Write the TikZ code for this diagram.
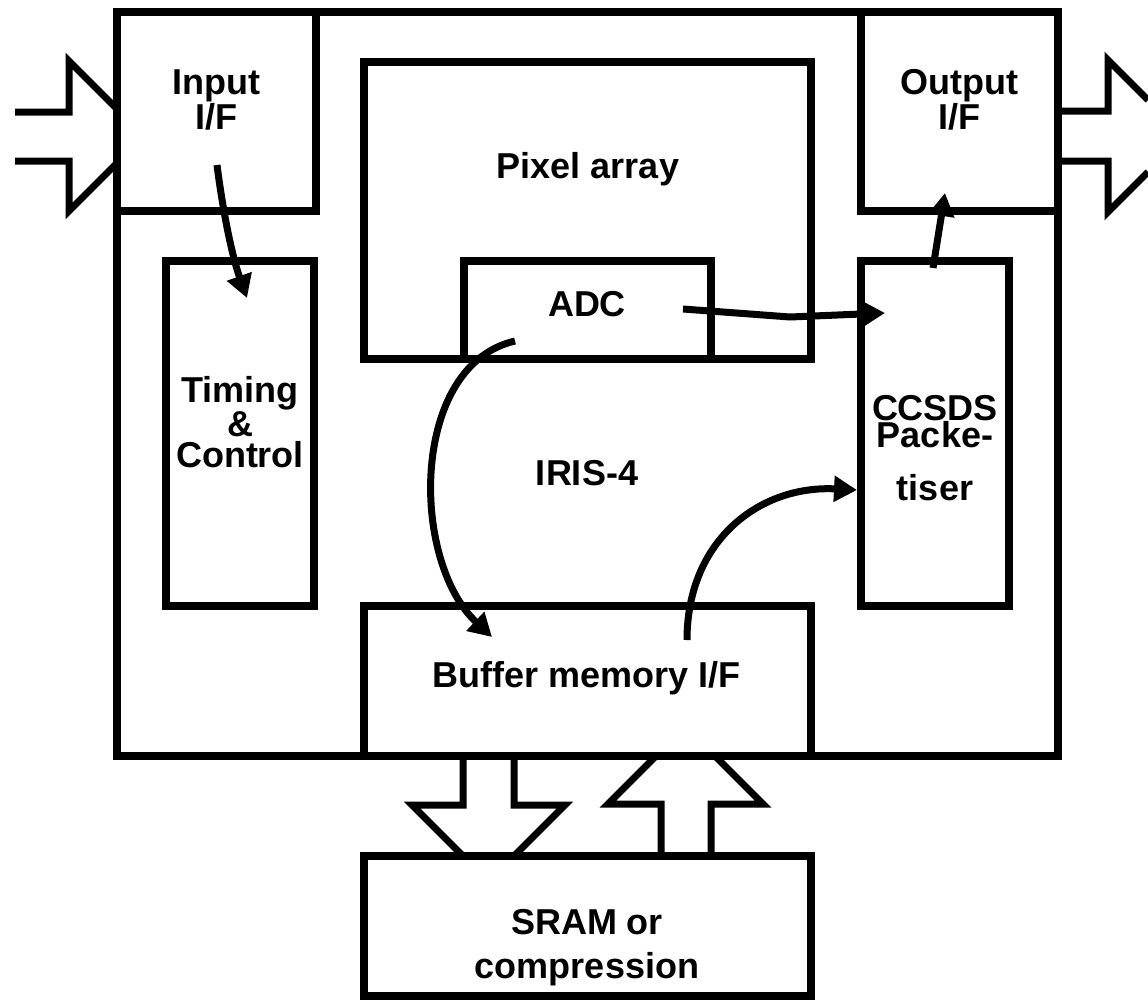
\documentclass[tikz,border=0pt]{standalone}
\usepackage{fontspec}
\setmainfont{Liberation Sans}
\usetikzlibrary{arrows.meta}
\tikzset{
  blk/.style={draw, color={rgb, 255:red, 0; green, 0; blue, 0}, line width=8pt, inner sep=0pt},
  lbl/.style={font=\bfseries\fontsize{36}{31}\selectfont, inner sep=0pt, align=center},
  flow/.style={line width=7pt, -{Triangle[length=23pt,width=25pt]}},
  bus/.style={line width=7pt, line join=miter},
}
\begin{document}
\begin{tikzpicture}[x=1pt,y=1pt,yscale=-1,xscale=1]
\useasboundingbox (0,0) rectangle (1148,1004);
% hollow bus arrows
\draw [bus] (15,112) -- (69,112) -- (69,61) -- (117,109);
\draw [bus] (117,163) -- (69,211) -- (69,161) -- (15,161);
\draw [bus] (1058,111) -- (1108,111) -- (1108,60) -- (1148,100);
\draw [bus] (1148,172) -- (1108,212) -- (1108,161) -- (1058,161);
\draw [bus] (463,756) -- (463,805) -- (412,805) -- (463,856);
\draw [bus] (514,856) -- (565,805) -- (514,805) -- (514,756);
\draw [bus] (661,856) -- (661,804) -- (608,804) -- (656,756);
\draw [bus] (711,856) -- (711,804) -- (763,804) -- (715,756);
% blocks
\node (chip) [blk, minimum width=941pt, minimum height=744pt] at (587.5,384) {};
\node (inif) [blk, minimum width=199pt, minimum height=199pt] at (216.5,111.5) {};
\node (outif) [blk, minimum width=197pt, minimum height=199pt] at (959.5,111.5) {};
\node (pix) [blk, minimum width=447pt, minimum height=297pt] at (587.5,210.5) {};
\node (adc) [blk, minimum width=247pt, minimum height=98pt] at (587.5,310) {};
\node (tc) [blk, minimum width=148pt, minimum height=345pt] at (240,433.5) {};
\node (ccsds) [blk, minimum width=148pt, minimum height=345pt] at (935,433.5) {};
\node (buf) [blk, minimum width=447pt, minimum height=150pt] at (587.5,681) {};
\node (sram) [blk, minimum width=447pt, minimum height=140pt] at (587.5,926) {};
% labels (base = last line)
\node (inlbl) [lbl, anchor=base] at (216,129) {Input\\I/F};
\node (outlbl) [lbl, anchor=base] at (959,129) {Output\\I/F};
\node (pixlbl) [lbl, anchor=base] at (588,178) {Pixel array};
\node (adclbl) [lbl, anchor=base] at (587,316) {ADC};
\node (chiplbl) [lbl, anchor=base] at (587,485) {IRIS-4};
\node (tclbl) [lbl, anchor=base] at (240,467) {Timing\\\&\\Control};
\node (cclbl) [lbl, anchor=base] at (935,500) {CCSDS\\[-4pt]Packe-\\[22pt]tiser};
\node (buflbl) [lbl, anchor=base] at (587,687) {Buffer memory I/F};
\node (sramlbl) [lbl, anchor=base] at (587,978) {SRAM or\\[13pt]compression};
% connector ends
\coordinate (ifout) at (217,165);
\coordinate (tcin) at (247,298);
\coordinate (ccout) at (933,268);
\coordinate (ofin) at (945,193);
\coordinate (adcout) at (683,309);
\coordinate (kink) at (790,317);
\coordinate (ccin) at (885,313);
\coordinate (adcdn) at (515,341);
\coordinate (bufin) at (492,637);
\coordinate (bufout) at (687,640);
\coordinate (ccside) at (857,490);
% data flow
\draw [flow] (ifout) .. controls (223,212) and (232,256) .. (tcin);
\draw [flow] (ccout) -- (ofin);
\draw [flow] (adcout) -- (kink) -- (ccin);
\draw [flow] (adcdn) .. controls (410,365) and (410,560) .. (bufin);
\draw [flow] (bufout) .. controls (687,540) and (760,485) .. (ccside);
\end{tikzpicture}
\end{document}
